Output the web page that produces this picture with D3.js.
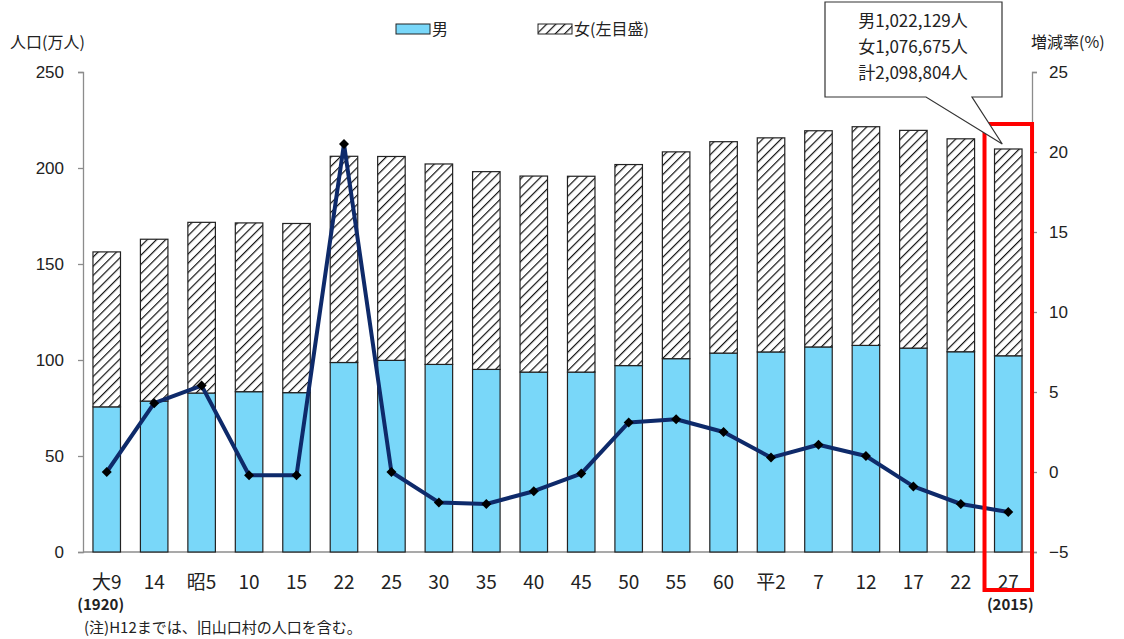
<!DOCTYPE html>
<html>
<head>
<meta charset="utf-8">
<script src="https://cdn.jsdelivr.net/npm/d3@7"></script>
<style>
  html, body { margin: 0; padding: 0; background: #fff; }
  svg { display: block; }
  text { font-family: "Noto Sans CJK JP", "Noto Sans", sans-serif; fill: #222; }
</style>
</head>
<body>
<svg id="chart" width="1124" height="639"></svg>
<script>
// 国勢調査年（和暦）
const categories = ["大9","14","昭5","10","15","22","25","30","35","40","45","50","55","60","平2","7","12","17","22","27"];
// 男・女 人口（万人）
const male   = [75.6, 78.6, 82.8, 83.5, 83.0, 98.7, 99.8, 97.7, 95.1, 93.7, 93.7, 97.1, 100.7, 103.6, 104.2, 106.8, 107.6, 106.2, 104.3, 102.2];
const female = [80.7, 84.3, 88.9, 87.9, 88.1, 107.4, 106.2, 104.4, 103.0, 102.1, 102.0, 104.7, 107.7, 110.1, 111.5, 112.6, 113.9, 113.4, 110.9, 107.7];
// 増減率（%）
const rate   = [0.0, 4.3, 5.4, -0.2, -0.2, 20.5, 0.0, -1.9, -2.0, -1.2, -0.1, 3.1, 3.3, 2.5, 0.9, 1.7, 1.0, -0.9, -2.0, -2.5];
const leftTicks  = [0, 50, 100, 150, 200, 250];
const rightTicks = [-5, 0, 5, 10, 15, 20, 25];
const calloutLines = ["男1,022,129人", "女1,076,675人", "計2,098,804人"];

const svg = d3.select("#chart");
const plot = { left: 83, right: 1032, top: 72, bottom: 552 };
const idx = d3.range(categories.length);

// band keyed by position, since "22" appears in both 昭和 and 平成
const x = d3.scaleBand().domain(idx).range([plot.left, plot.right]).paddingInner(0.42).paddingOuter(0.21);
const cx = i => x(i) + x.bandwidth() / 2;
const yL = d3.scaleLinear().domain([0, 250]).range([plot.bottom, plot.top]);
const yR = d3.scaleLinear().domain([-5, 25]).range([plot.bottom, plot.top]);

// hatch pattern for female
const defs = svg.append("defs");
const pat = defs.append("pattern").attr("id", "hatch")
  .attr("patternUnits", "userSpaceOnUse").attr("width", 6.5).attr("height", 6.5)
  .attr("patternTransform", "rotate(45)");
pat.append("rect").attr("width", 6.5).attr("height", 6.5).attr("fill", "#fff");
pat.append("line").attr("x1", 0).attr("y1", 0).attr("x2", 0).attr("y2", 6.5)
  .attr("stroke", "#111").attr("stroke-width", 2.4);

const maleFill = "#79d7f9";

// axes
const axisColor = "#8c8c8c";
const gL = svg.append("g").attr("transform", `translate(${plot.left},0)`)
  .call(d3.axisLeft(yL).tickValues(leftTicks).tickSize(5).tickPadding(14));
const gR = svg.append("g").attr("transform", `translate(${plot.right},0)`)
  .call(d3.axisRight(yR).tickValues(rightTicks).tickSize(5).tickPadding(12).tickFormat(d => d < 0 ? "\u2212" + Math.abs(d) : d));
[gL, gR].forEach(g => {
  g.select(".domain").attr("stroke", axisColor).attr("stroke-width", 1.3);
  g.selectAll(".tick line").attr("stroke", axisColor).attr("stroke-width", 1.3);
  g.selectAll(".tick text").style("font-size", "17px").attr("fill", "#222")
    .style("font-family", "'Liberation Sans', Arial, sans-serif");
});
gR.selectAll(".tick text").filter(d => d < 0).attr("fill", "#ff2020");
svg.append("line").attr("x1", plot.left).attr("x2", plot.right)
  .attr("y1", plot.bottom).attr("y2", plot.bottom)
  .attr("stroke", axisColor).attr("stroke-width", 1.3);

// bars
const bars = svg.append("g");
idx.forEach(i => {
  bars.append("rect").attr("x", x(i)).attr("width", x.bandwidth())
    .attr("y", yL(male[i])).attr("height", yL(0) - yL(male[i]))
    .attr("fill", maleFill).attr("stroke", "#222").attr("stroke-width", 1.2);
  bars.append("rect").attr("x", x(i)).attr("width", x.bandwidth())
    .attr("y", yL(male[i] + female[i])).attr("height", yL(male[i]) - yL(male[i] + female[i]))
    .attr("fill", "url(#hatch)").attr("stroke", "#222").attr("stroke-width", 1.2);
});

// growth-rate line
const line = d3.line().x((d, i) => cx(i)).y(d => yR(d));
svg.append("path").datum(rate).attr("d", line)
  .attr("fill", "none").attr("stroke", "#0e2a6a").attr("stroke-width", 4)
  .attr("stroke-linejoin", "round");
svg.append("g").selectAll("path").data(rate).join("path")
  .attr("d", d3.symbol(d3.symbolSquare, 50))
  .attr("transform", (d, i) => `translate(${cx(i)},${yR(d)}) rotate(45)`)
  .attr("fill", "#000");

// x labels
svg.append("g").selectAll("text").data(categories).join("text")
  .attr("x", (d, i) => cx(i)).attr("y", 589)
  .attr("text-anchor", "middle").style("font-size", "19px").text(d => d);
svg.append("text").attr("x", cx(0) - 6).attr("y", 610)
  .attr("text-anchor", "middle").style("font-size", "15px").style("font-weight", "600").text("(1920)");
svg.append("text").attr("x", cx(19) + 2).attr("y", 610)
  .attr("text-anchor", "middle").style("font-size", "15px").style("font-weight", "600").text("(2015)");

// axis titles
svg.append("text").attr("x", 10).attr("y", 48).style("font-size", "16px").text("人口(万人)");
svg.append("text").attr("x", 1031).attr("y", 48).style("font-size", "16px").text("増減率(%)");

// legend
svg.append("rect").attr("x", 396).attr("y", 24).attr("width", 34).attr("height", 10)
  .attr("fill", maleFill).attr("stroke", "#222").attr("stroke-width", 1);
svg.append("text").attr("x", 432).attr("y", 35).style("font-size", "16px").text("男");
svg.append("rect").attr("x", 538).attr("y", 24).attr("width", 34).attr("height", 10)
  .attr("fill", "url(#hatch)").attr("stroke", "#222").attr("stroke-width", 1);
svg.append("text").attr("x", 574).attr("y", 35).style("font-size", "16px").text("女(左目盛)");

// highlight of latest census
const lastI = idx[idx.length - 1];
svg.append("rect").attr("x", x(lastI) - 10).attr("y", 124)
  .attr("width", x.bandwidth() + 20).attr("height", 466)
  .attr("fill", "none").attr("stroke", "#ff0000").attr("stroke-width", 4);

// callout
const tipX = cx(lastI) - 6, tipY = 144;
svg.append("path")
  .attr("d", `M825,2 L1002,2 L1002,97 L972,97 L${tipX},${tipY} L926,97 L825,97 Z`)
  .attr("fill", "#fff").attr("stroke", "#333").attr("stroke-width", 1.2);
svg.append("g").selectAll("text").data(calloutLines).join("text")
  .attr("x", 913).attr("y", (d, i) => 27 + i * 26)
  .attr("text-anchor", "middle").style("font-size", "17px").text(d => d);

// note
svg.append("text").attr("x", 84).attr("y", 633).style("font-size", "15px")
  .text("(注)H12までは、旧山口村の人口を含む。");
</script>
</body>
</html>
